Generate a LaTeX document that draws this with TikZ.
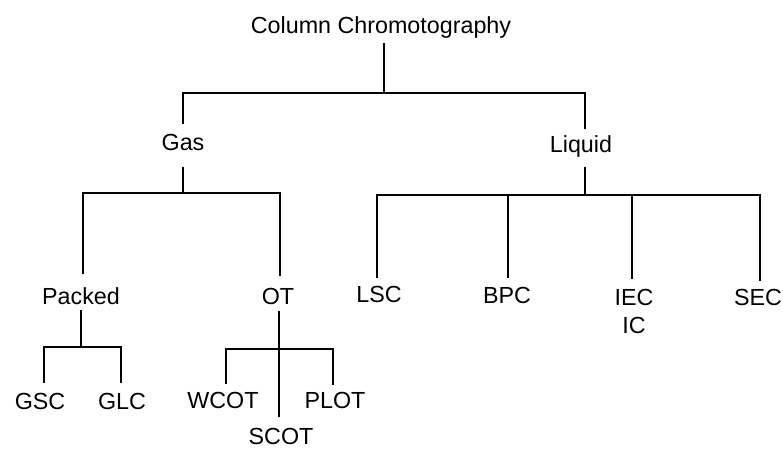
\documentclass[tikz,border=0pt]{standalone}
\usepackage{fontspec}
\setmainfont{Liberation Sans}
\begin{document}
\begin{tikzpicture}[x=1pt,y=-1pt,
  lbl/.style={anchor=base,inner sep=0pt,font=\fontsize{23.3}{27}\selectfont},
  conn/.style={line width=1.8pt,line cap=rect}]
\useasboundingbox (0,0) rectangle (783,448);
% labels
\node[lbl] (cc) at (381,33) {Column Chromotography};
\node[lbl] (gas) at (183,150) {Gas};
\node[lbl] (liq) at (581,152) {Liquid};
\node[lbl] (packed) at (81,304) {Packed};
\node[lbl] (ot) at (278,304) {OT};
\node[lbl] (gsc) at (40,409) {GSC};
\node[lbl] (glc) at (122,409) {GLC};
\node[lbl] (wcot) at (223,408) {WCOT};
\node[lbl] (plot) at (335,408) {PLOT};
\node[lbl] (scot) at (281,444) {SCOT};
\node[lbl] (lsc) at (379,302) {LSC};
\node[lbl] (bpc) at (507,303) {BPC};
\node[lbl] (iec) at (634,305) {IEC};
\node[lbl] (ic) at (634,333) {IC};
\node[lbl] (sec) at (758,305) {SEC};
% connector end points
\coordinate (ccb) at (384,44);
\coordinate (ccj) at (384,93);
\coordinate (gast) at (183,123);
\coordinate (liqt) at (585,128);
\coordinate (gasb) at (183,168);
\coordinate (gasj) at (183,193);
\coordinate (packedt) at (83,273);
\coordinate (ott) at (280,275);
\coordinate (packedb) at (81,311);
\coordinate (packedj) at (81,347);
\coordinate (gsct) at (44,382);
\coordinate (glct) at (121,382);
\coordinate (otb) at (279,312);
\coordinate (otj) at (279,349);
\coordinate (wcott) at (226,383);
\coordinate (plott) at (333,384);
\coordinate (scott) at (279,416);
\coordinate (liqb) at (585,168);
\coordinate (liqj) at (585,195);
\coordinate (lsct) at (377,277);
\coordinate (bpct) at (508,277);
\coordinate (iect) at (632,278);
\coordinate (sect) at (760,280);
% connectors
\draw[conn] (ccb) -- (ccj);
\draw[conn] (gast) |- (ccj) -| (liqt);
\draw[conn] (gasb) -- (gasj);
\draw[conn] (packedt) |- (gasj) -| (ott);
\draw[conn] (packedb) -- (packedj);
\draw[conn] (gsct) |- (packedj) -| (glct);
\draw[conn] (otb) -- (scott);
\draw[conn] (wcott) |- (otj) -| (plott);
\draw[conn] (liqb) -- (liqj);
\draw[conn] (lsct) |- (liqj) -| (sect);
\draw[conn] (bpct) -- (bpct |- liqj);
\draw[conn] (iect) -- (iect |- liqj);
\end{tikzpicture}
\end{document}
